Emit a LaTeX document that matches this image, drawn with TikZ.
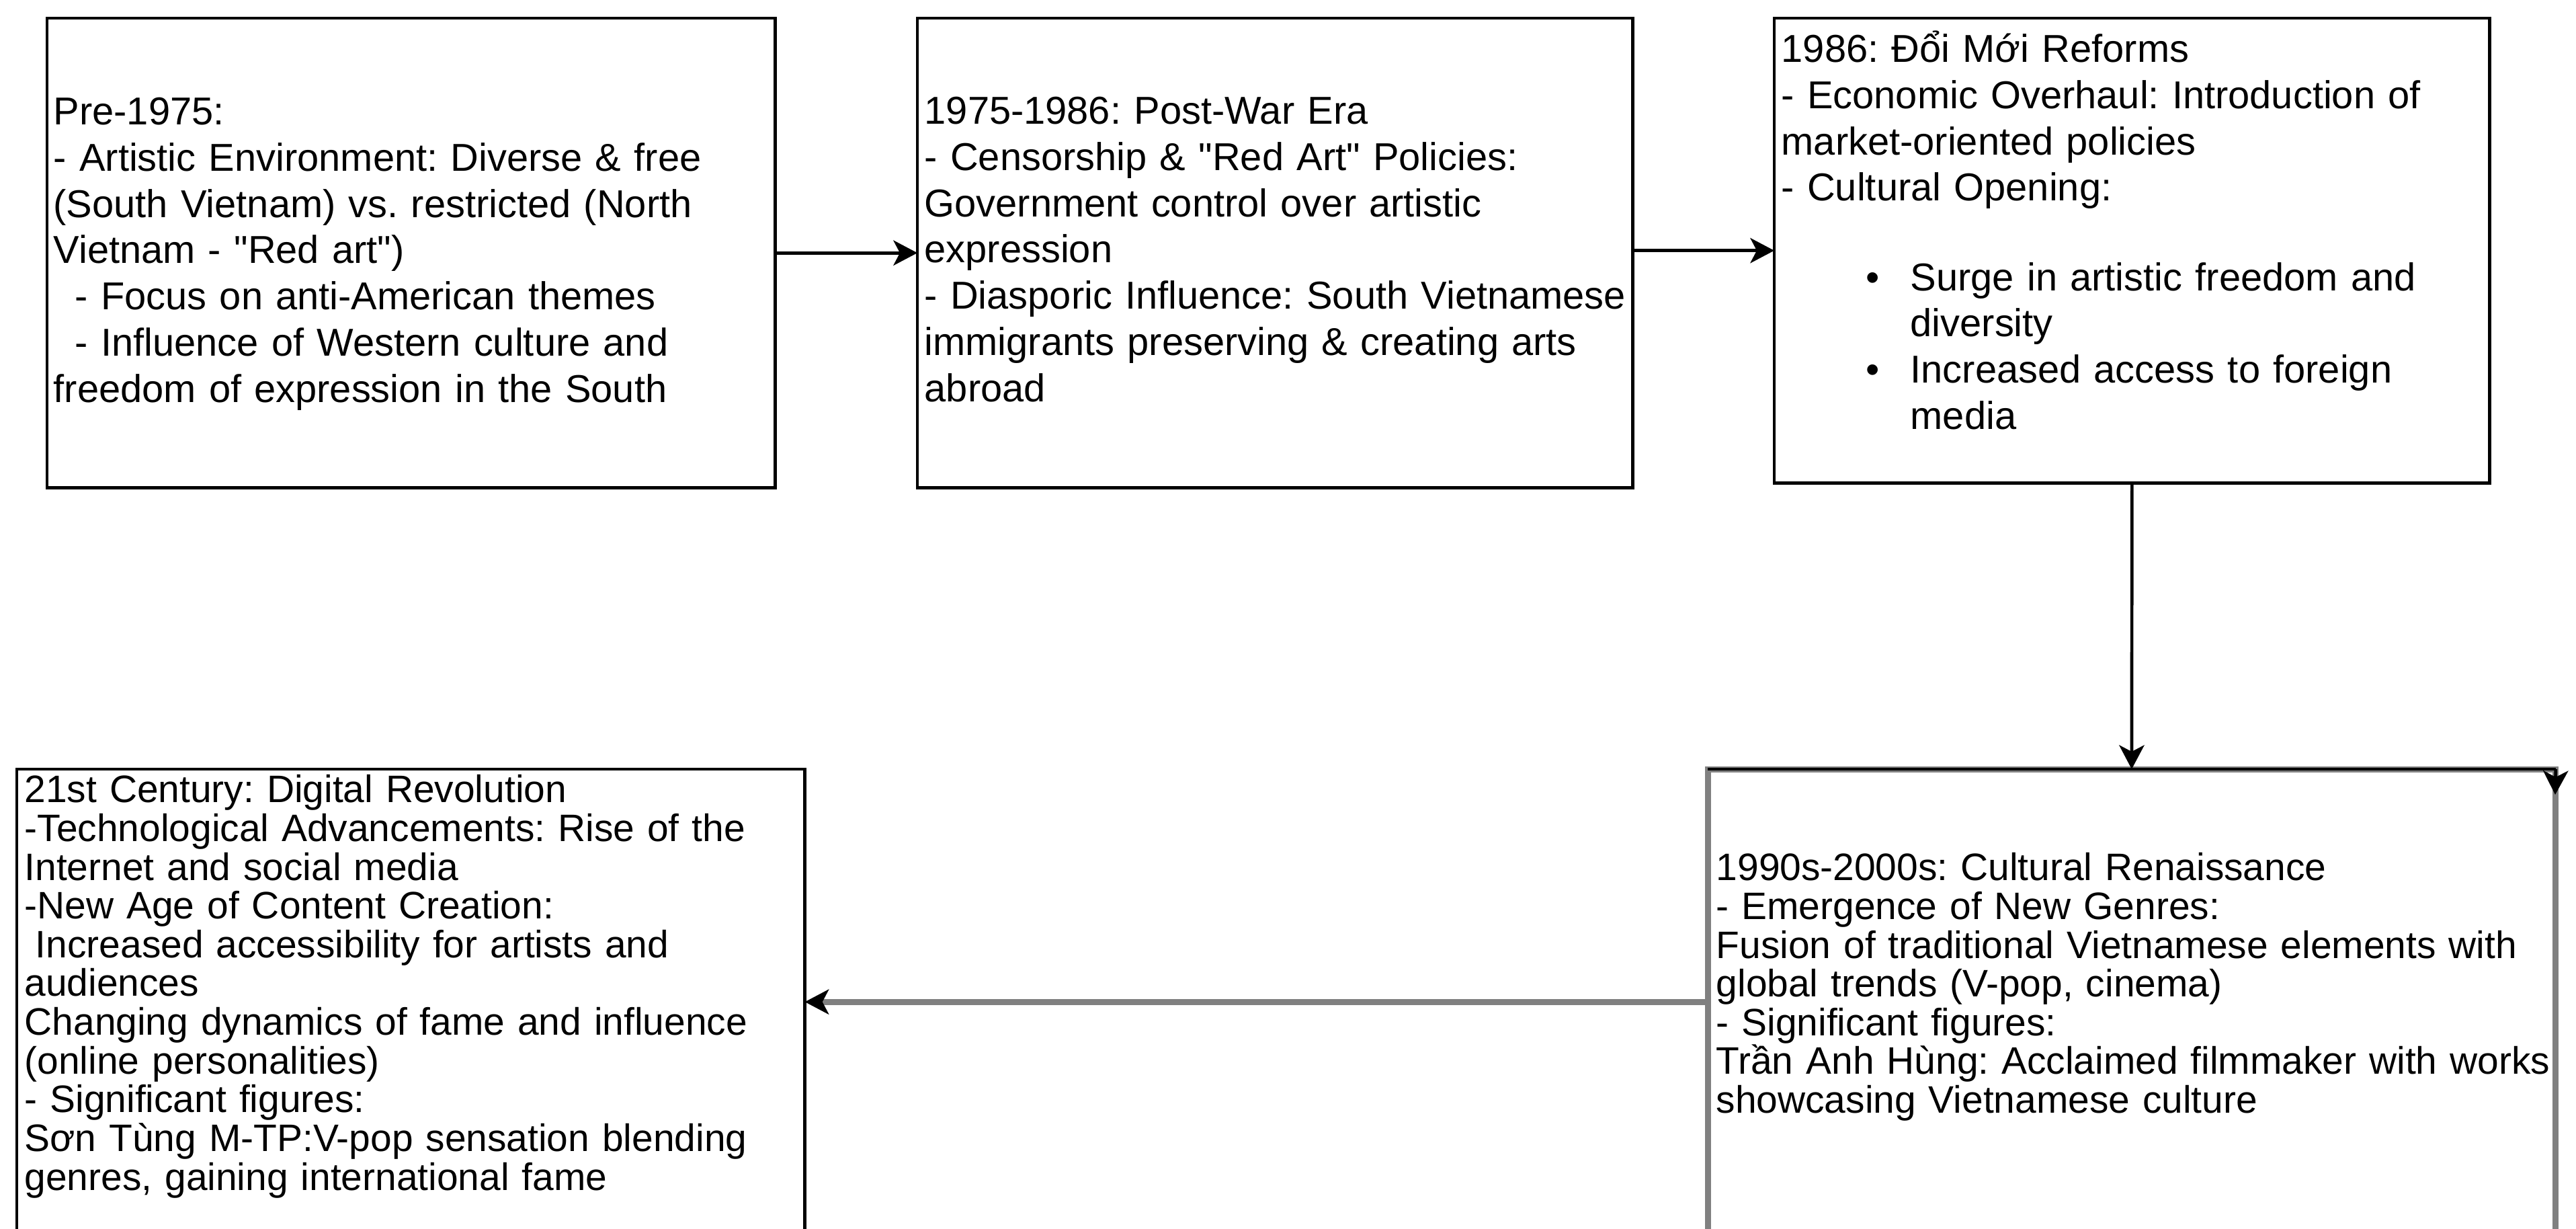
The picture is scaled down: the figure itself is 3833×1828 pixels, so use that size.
\documentclass[tikz,border=0pt]{standalone}
\usepackage{fontspec}
\setmainfont{Liberation Sans}[Ligatures=TeXOff]
\usetikzlibrary{arrows.meta}
\definecolor{edgegray}{RGB}{128,128,128}
\newcommand{\hstrut}{\rule{0pt}{20pt}}
\frenchspacing
\tikzset{
  box/.style={draw, line width=1.33pt, inner sep=0pt, outer sep=0pt, anchor=north west},
  txt/.style={anchor=north west, inner sep=0pt, text width=13cm, align=left,
    font={\fontsize{16.44pt}{19.55pt}\selectfont\lineskiplimit=-50pt}},
  txtb/.style={txt, font={\fontsize{16.18pt}{16.39pt}\selectfont\lineskiplimit=-50pt}},
  arr/.style={line width=1.33pt, -{Stealth[length=0.36cm,width=0.38cm,inset=0.1cm,line width=0pt]}},
  garr/.style={draw=edgegray, line width=2.56pt, -{Stealth[length=0.36cm,width=0.38cm,inset=0.1cm,line width=0pt,color=black]}}
}
\begin{document}
\begin{tikzpicture}[x=0.01cm, y=-0.01cm]
  \useasboundingbox (0,0) rectangle (3833,1828);
  \clip (0,0) rectangle (3833,1828);
  %BOXES
  \node[box, minimum width=10.83cm, minimum height=6.98cm] (r1) at (70,27) {};
  \node[box, minimum width=10.64cm, minimum height=6.98cm] (r2) at (1365,27) {};
  \node[box, minimum width=10.64cm, minimum height=6.91cm] (r3) at (2640,27) {};
  \node[box, draw=edgegray, line width=2.56pt, minimum width=12.61cm, minimum height=6.92cm] (r4) at (2541,1144) {};
  \node[box, minimum width=11.72cm, minimum height=6.92cm] (r5) at (25,1144) {};
  \draw[line width=1.33pt] (r4.north west) -- (r4.north east);
  %TEXTS
  \node[txt] (t1) at (79,114.7) {\hstrut Pre-1975:\\
    - Artistic Environment: Diverse \& free\\
    (South Vietnam) vs. restricted (North\\
    Vietnam - "Red art")\\
    \hspace*{9.1pt}- Focus on anti-American themes\\
    \hspace*{9.1pt}- Influence of Western culture and\\
    freedom of expression in the South};
  \node[txt] (t2) at (1375,113.7) {\hstrut 1975-1986: Post-War Era\\
    - Censorship \& "Red Art" Policies:\\
    Government control over artistic\\
    expression\\
    - Diasporic Influence: South Vietnamese\\
    immigrants preserving \& creating arts\\
    abroad};
  \node[txt] (t3) at (2650,21.7) {\hstrut 1986: Đổi Mới Reforms\\
    - Economic Overhaul: Introduction of\\
    market-oriented policies\\
    - Cultural Opening:\\[18.3pt]
    \hspace*{35.9pt}\makebox[18.7pt][l]{\textbullet}Surge in artistic freedom and\\
    \hspace*{54.6pt}diversity\\
    \hspace*{35.9pt}\makebox[18.7pt][l]{\textbullet}Increased access to foreign\\
    \hspace*{54.6pt}media};
  \node[txtb] (t4) at (2553,1238.7) {\hstrut 1990s-2000s: Cultural Renaissance\\
    - Emergence of New Genres:\\
    Fusion of traditional Vietnamese elements with\\
    global trends (V-pop, cinema)\\
    - Significant figures:\\
    Trần Anh Hùng: Acclaimed filmmaker with works\\
    showcasing Vietnamese culture};
  \node[txtb] (t5) at (36,1122.7) {\hstrut 21st Century: Digital Revolution\\
    -Technological Advancements: Rise of the\\
    Internet and social media\\
    -New Age of Content Creation:\\
    \hspace*{4.6pt}Increased accessibility for artists and\\
    audiences\\
    Changing dynamics of fame and influence\\
    (online personalities)\\
    - Significant figures:\\
    Sơn Tùng M-TP:V-pop sensation blending\\
    genres, gaining international fame};
  %ARROWS
  \coordinate (c4) at (3802,1182);
  \draw[arr] (r1.east) -- (r2.west);
  \draw[arr] (r2.east |- r3.west) -- (r3.west);
  \draw[arr] (r3.south) -- (r4.north);
  \draw[garr] (r4.west) -- (r5.east);
  \draw[arr] (r4.north east) -- (c4);
\end{tikzpicture}
\end{document}
